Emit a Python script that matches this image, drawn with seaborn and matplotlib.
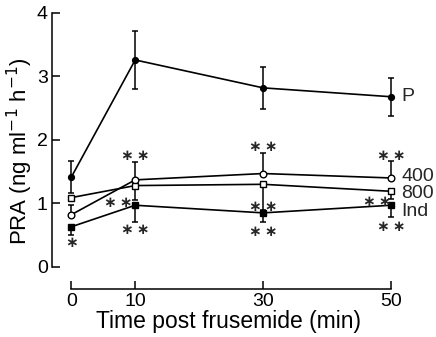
import matplotlib
matplotlib.use("Agg")
import matplotlib.pyplot as plt
import seaborn as sns
import pandas as pd

sns.set_theme(style="ticks")
plt.rcParams['font.family'] = ['Liberation Sans', 'DejaVu Sans']

time = [0, 10, 30, 50]
p_vals = [1.41, 3.26, 2.82, 2.68]
p_err = [0.25, 0.45, 0.33, 0.30]
d400_vals = [0.82, 1.37, 1.47, 1.40]
d400_err_up = [0.16, 0.28, 0.32, 0.26]
d800_vals = [1.09, 1.28, 1.30, 1.19]
d800_err_dn = [0.0, 0.22, 0.40, 0.12]
ind_vals = [0.63, 0.97, 0.85, 0.97]
ind_err_dn = [0.13, 0.26, 0.15, 0.18]

series_labels = ["P", "400", "800", "Ind"]

# significance marks: (x, y, text)
star_x = [0, 10, 7.3, 10, 30, 30, 30, 47.8, 50, 50]
star_y = [0.38, 1.75, 1.02, 0.58, 1.90, 0.95, 0.56, 1.03, 0.64, 1.75]
star_t = ["*", "**", "**", "**", "**", "**", "**", "**", "**", "**"]

fig = plt.figure(figsize=(4.36, 3.37), dpi=100)
ax = fig.add_axes([52/436, 48/337, 352/436, 276/337])

df = pd.DataFrame({
    "time": time * 4,
    "value": p_vals + d400_vals + d800_vals + ind_vals,
    "series": sum([[s] * 4 for s in series_labels], []),
})

styles = {
    "P": dict(marker="o", mfc="black", ms=4.2),
    "400": dict(marker="o", mfc="white", ms=4.8),
    "800": dict(marker="s", mfc="white", ms=4.2),
    "Ind": dict(marker="s", mfc="black", ms=4.5),
}
for s in series_labels:
    sub = df[df.series == s]
    st = styles[s]
    sns.lineplot(data=sub, x="time", y="value", ax=ax, color="black",
                 linewidth=1.2, marker=st["marker"], markersize=st["ms"],
                 markerfacecolor=st["mfc"], markeredgecolor="black",
                 markeredgewidth=1.0, zorder=3)

ek = dict(fmt="none", ecolor="black", elinewidth=1.1, capsize=2.5, capthick=1.1, zorder=2)
ax.errorbar(time, p_vals, yerr=[p_err, p_err], **ek)
ax.errorbar(time, d400_vals, yerr=[[0]*4, d400_err_up], **ek)
ax.errorbar(time, d800_vals, yerr=[d800_err_dn, [0]*4], **ek)
ax.errorbar(time, ind_vals, yerr=[ind_err_dn, [0]*4], **ek)

for x, y, t in zip(star_x, star_y, star_t):
    ax.text(x, y, "\u2009".join(["\u2217"] * len(t)), ha="center", va="center",
            fontsize=11, fontweight="bold", family="DejaVu Sans")

label_y = [p_vals[-1], 1.43, 1.15, 0.87]
for lab, y in zip(series_labels, label_y):
    ax.text(51.6, y, lab, ha="left", va="center", fontsize=14, clip_on=False)

ax.set_xlim(-3, 52)
ax.set_ylim(-0.35, 4.0)
ax.set_xticks([0, 10, 30, 50])
ax.set_yticks([0, 1, 2, 3, 4])
ax.spines['left'].set_bounds(0, 4)
ax.spines['bottom'].set_bounds(0, 50)
ax.spines['top'].set_visible(False)
ax.spines['right'].set_visible(False)
for sp in ['left', 'bottom']:
    ax.spines[sp].set_color('black')
    ax.spines[sp].set_linewidth(1.1)
ax.tick_params(direction='in', length=6, width=1.1, colors='black', labelsize=14, pad=3)
ax.set_xlabel("Time post frusemide (min)", fontsize=16.5, color='black', labelpad=0)
ax.set_ylabel("PRA (ng ml$^{-1}$ h$^{-1}$)", fontsize=16, color='black', labelpad=1)
ax.set_facecolor('white')
fig.patch.set_facecolor('white')

fig.savefig("out.png", dpi=100)
